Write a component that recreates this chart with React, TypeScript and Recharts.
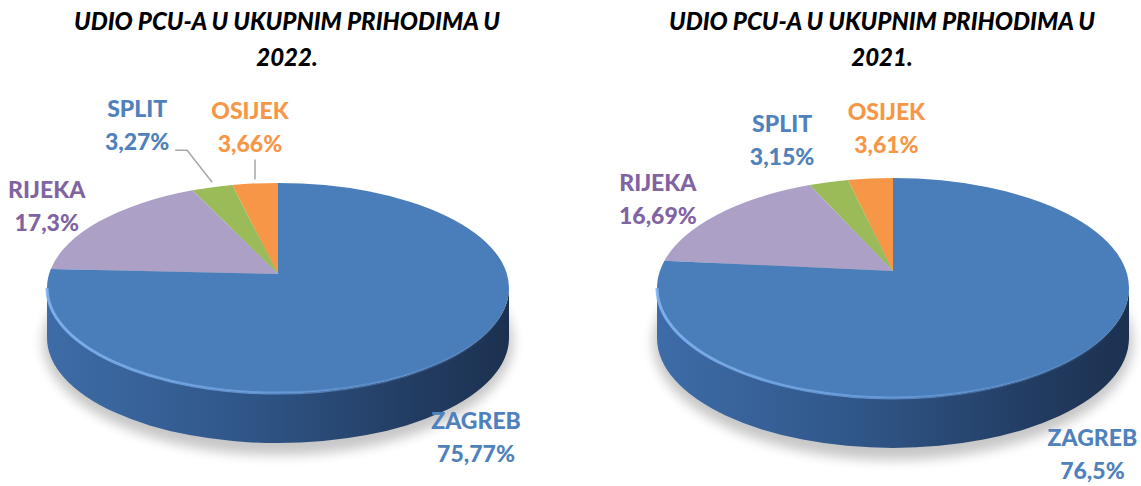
import { PieChart, Pie, Cell } from 'recharts';

const cities = ['OSIJEK', 'SPLIT', 'RIJEKA', 'ZAGREB'];
const share2022 = [3.66, 3.27, 17.3, 75.77];
const share2021 = [3.61, 3.15, 16.69, 76.5];
const years = ['2022.', '2021.'];
const titleText = 'UDIO PCU-A U UKUPNIM PRIHODIMA U';

const topColors = ['#F79646', '#9BBB59', '#ADA0C7', '#4A7EBB'];
const textColors = ['#F79646', '#4F81BD', '#8064A2', '#4F81BD'];

const data2022 = cities.map((name, i) => ({ name, value: share2022[i] }));
const data2021 = cities.map((name, i) => ({ name, value: share2021[i] }));

const FONT = 'Lato, "Open Sans", sans-serif';

// 3d look of each pie: tilt (ry / rx), lift of the apex, wall depth
// label offsets are measured from the rim point at the slice's mid angle
const geoLeft = {
  id: 'l',
  k: 0.455,
  lift: 14,
  depth: 50,
  offsets: [[-5, -47.5], [-75, -53.5], [-55, -6], [24, 88]],
  leaders: ['v', 'elbow', '', ''],
};
const geoRight = {
  id: 'r',
  k: 0.466,
  lift: 17,
  depth: 50,
  offsets: [[16, -42.5], [-46.5, -33.5], [-62, -5.5], [23.5, 101]],
  leaders: ['', '', '', ''],
};

const rad = (a: number) => (a * Math.PI) / 180;

// point where a ray from the apex hits the rim of the tilted ellipse
const rimPoint = (cx: number, cy: number, r: number, g: any, angle: number) => {
  const ry = r * g.k;
  const dx = Math.cos(rad(angle));
  const dy = -g.k * Math.sin(rad(angle));
  const y0 = -g.lift;
  const A = (dx * dx) / (r * r) + (dy * dy) / (ry * ry);
  const B = (2 * y0 * dy) / (ry * ry);
  const C = (y0 * y0) / (ry * ry) - 1;
  const t = (-B + Math.sqrt(B * B - 4 * A * C)) / (2 * A);
  return { x: cx + t * dx, y: cy + y0 + t * dy };
};

const paramOf = (cx: number, cy: number, r: number, ry: number, p: any) => {
  let a = (Math.atan2(-(p.y - cy) / ry, (p.x - cx) / r) * 180) / Math.PI;
  if (a < 0) a += 360;
  return a;
};

const ellPt = (cx: number, cy: number, r: number, ry: number, a: number) => ({
  x: cx + r * Math.cos(rad(a)),
  y: cy - ry * Math.sin(rad(a)),
});

const makeShape = (g: any) => (props: any) => {
  const { cx, cy, outerRadius: r, startAngle, endAngle, fill } = props;
  const name = props.payload?.name ?? props.name;
  const idx = cities.indexOf(name);
  const ry = r * g.k;
  const apex = { x: cx, y: cy - g.lift };
  const p1 = rimPoint(cx, cy, r, g, startAngle);
  const p2 = rimPoint(cx, cy, r, g, endAngle);
  const f1 = paramOf(cx, cy, r, ry, p1);
  let f2 = paramOf(cx, cy, r, ry, p2);
  while (f2 <= f1) f2 += 360;
  const large = f2 - f1 > 180 ? 1 : 0;
  const top = `M${apex.x},${apex.y} L${p1.x},${p1.y} A${r},${ry} 0 ${large} 0 ${p2.x},${p2.y} Z`;

  // front walls
  const walls: string[] = [];
  const rims: string[] = [];
  [[180, 360], [540, 720]].forEach(([lo, hi]) => {
    const a = Math.max(lo, f1);
    const b = Math.min(hi, f2);
    if (b - a > 0.01) {
      const e1 = ellPt(cx, cy, r, ry, a);
      const e2 = ellPt(cx, cy, r, ry, b);
      const lg = b - a > 180 ? 1 : 0;
      walls.push(
        `M${e1.x},${e1.y} A${r},${ry} 0 ${lg} 0 ${e2.x},${e2.y} L${e2.x},${e2.y + g.depth} A${r},${ry} 0 ${lg} 1 ${e1.x},${e1.y + g.depth} Z`
      );
      rims.push(`M${e1.x},${e1.y} A${r},${ry} 0 ${lg} 0 ${e2.x},${e2.y}`);
    }
  });

  return (
    <g>
      <defs>
        <linearGradient id={`wall-${g.id}-${idx}`} gradientUnits="userSpaceOnUse" x1={cx - r} y1={0} x2={cx + r} y2={0}>
          <stop offset="0" stopColor="#3E6CA8" />
          <stop offset="0.45" stopColor="#2F5586" />
          <stop offset="0.8" stopColor="#223C61" />
          <stop offset="1" stopColor="#1C3150" />
        </linearGradient>
        <linearGradient id={`rim-${g.id}-${idx}`} gradientUnits="userSpaceOnUse" x1={cx - r} y1={0} x2={cx + r} y2={0}>
          <stop offset="0" stopColor="#7FB4F2" stopOpacity={0.9} />
          <stop offset="0.5" stopColor="#6FA3E2" stopOpacity={0.7} />
          <stop offset="1" stopColor="#6FA3E2" stopOpacity={0} />
        </linearGradient>
        <filter id={`blur-${g.id}`} x="-20%" y="-40%" width="140%" height="180%">
          <feGaussianBlur stdDeviation="6" />
        </filter>
      </defs>
      {idx === 0 && (
        <ellipse
          cx={cx}
          cy={cy + g.depth + 4}
          rx={r + 4}
          ry={ry + 8}
          fill="#000"
          opacity={0.22}
          filter={`url(#blur-${g.id})`}
        />
      )}
      {walls.map((d, i) => (
        <path key={`w${i}`} d={d} fill={`url(#wall-${g.id}-${idx})`} />
      ))}
      <path d={top} fill={fill} />
      {rims.map((d, i) => (
        <path key={`r${i}`} d={d} fill="none" stroke={`url(#rim-${g.id}-${idx})`} strokeWidth={3} />
      ))}
    </g>
  );
};

const fmt = (v: number) => String(v).replace('.', ',') + '%';

const makeLabel = (g: any) => (props: any) => {
  const { cx, cy, outerRadius, midAngle, value } = props;
  const name = props.payload?.name ?? props.name;
  const i = cities.indexOf(name);
  const p = rimPoint(cx, cy, outerRadius, g, midAngle);
  const [ox, oy] = g.offsets[i];
  const lx = p.x + ox;
  const ly = p.y + oy;
  let leader = null;
  if (g.leaders[i] === 'v') {
    leader = <path d={`M${p.x},${ly + 23.5} L${p.x},${p.y - 4}`} stroke="#A6A6A6" strokeWidth={1.5} fill="none" />;
  } else if (g.leaders[i] === 'elbow') {
    leader = (
      <path
        d={`M${lx + 38},${ly + 16.5} L${lx + 50},${ly + 16.5} L${p.x},${p.y - 5}`}
        stroke="#A6A6A6"
        strokeWidth={1.5}
        fill="none"
      />
    );
  }
  const style = { fontFamily: FONT, fontWeight: 900, fontSize: 23 };
  return (
    <g>
      {leader}
      <text x={lx} y={ly - 16.5} textAnchor="middle" fill={textColors[i]} style={style}>
        {name}
      </text>
      <text x={lx} y={ly + 16.5} textAnchor="middle" fill={textColors[i]} style={style}>
        {fmt(value)}
      </text>
    </g>
  );
};

export default function App() {
  return (
    <div style={{ position: 'absolute', left: 0, top: 0, width: 1141, height: 486, background: '#fff' }}>
      <PieChart width={1141} height={486} margin={{ top: 0, right: 0, bottom: 0, left: 0 }}>
        <Pie
          data={data2022}
          dataKey="value"
          nameKey="name"
          cx={278}
          cy={288}
          outerRadius={231}
          startAngle={90}
          endAngle={450}
          stroke="none"
          isAnimationActive={false}
          shape={makeShape(geoLeft)}
          label={makeLabel(geoLeft)}
          labelLine={false}
        >
          {data2022.map((d, i) => (
            <Cell key={d.name} fill={topColors[i]} />
          ))}
        </Pie>
        <Pie
          data={data2021}
          dataKey="value"
          nameKey="name"
          cx={893}
          cy={288}
          outerRadius={236}
          startAngle={90}
          endAngle={450}
          stroke="none"
          isAnimationActive={false}
          shape={makeShape(geoRight)}
          label={makeLabel(geoRight)}
          labelLine={false}
        >
          {data2021.map((d, i) => (
            <Cell key={d.name} fill={topColors[i]} />
          ))}
        </Pie>
      </PieChart>
      <svg width={1141} height={90} style={{ position: 'absolute', left: 0, top: 0, pointerEvents: 'none' }}>
        {[287, 882].map((x, i) => (
          <g key={years[i]} style={{ fontFamily: FONT, fontWeight: 900, fontStyle: 'italic', fontSize: 24 }} fill="#000" textAnchor="middle">
            <text x={x} y={30}>{titleText}</text>
            <text x={x} y={66}>{years[i]}</text>
          </g>
        ))}
      </svg>
    </div>
  );
}
